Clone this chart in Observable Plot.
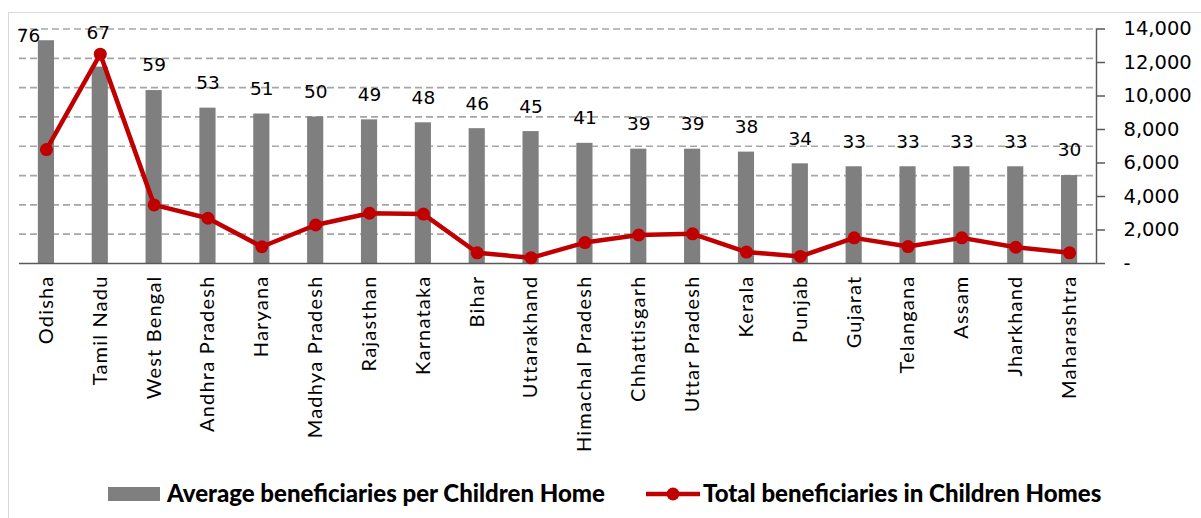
<!DOCTYPE html>
<html><head><meta charset="utf-8">
<script src="https://cdn.jsdelivr.net/npm/d3@7"></script>
<script src="https://cdn.jsdelivr.net/npm/@observablehq/plot@0.6"></script>
<style>
html,body{margin:0;padding:0;background:#fff;width:1201px;height:518px;overflow:hidden;position:relative;}
#frame{position:absolute;left:8px;top:12px;width:1300px;height:700px;border:1px solid #d9d9d9;box-sizing:border-box;}
#chart{position:absolute;left:0;top:0;}
.leg{position:absolute;font-family:Lato,sans-serif;font-weight:900;font-size:24px;color:#000;line-height:28px;white-space:nowrap;}
</style>
</head><body>
<div id="frame"></div>
<div id="chart"></div>
<div class="leg" id="leg1" style="left:108px;top:479px;">
  <span style="display:inline-block;width:52px;height:14px;background:#7f7f7f;vertical-align:1px;margin-right:7px;"></span><span id="leg1t"></span>
</div>
<div class="leg" id="leg2" style="left:646px;top:479px;">
  <svg width="54" height="16" style="vertical-align:0px;margin-right:3px;"><line x1="0" x2="54" y1="8" y2="8" stroke="#c00000" stroke-width="4.5"/><circle cx="27" cy="8" r="6.5" fill="#c00000"/></svg><span id="leg2t"></span>
</div>
<script>
const states = ["Odisha","Tamil Nadu","West Bengal","Andhra Pradesh","Haryana","Madhya Pradesh","Rajasthan","Karnataka","Bihar","Uttarakhand","Himachal Pradesh","Chhattisgarh","Uttar Pradesh","Kerala","Punjab","Gujarat","Telangana","Assam","Jharkhand","Maharashtra"];
const avgPerHome = [76,67,59,53,51,50,49,48,46,45,41,39,39,38,34,33,33,33,33,30];
const totalBeneficiaries = [6800,12500,3500,2700,1000,2300,3000,2950,640,340,1250,1700,1770,680,420,1530,1010,1530,970,640];
const rightTicks = [0,2000,4000,6000,8000,10000,12000,14000];
const leftGrid = [10,20,30,40,50,60,70,80];
const seriesNames = ["Average beneficiaries per Children Home","Total beneficiaries in Children Homes"];

document.getElementById("leg1t").textContent = seriesNames[0];
document.getElementById("leg2t").textContent = seriesNames[1];

const leftMax = 80, rightMax = 14000;
const toLeft = v => v * leftMax / rightMax;
const data = states.map((s,i)=>({state:s, avg:avgPerHome[i], total:totalBeneficiaries[i], tl: toLeft(totalBeneficiaries[i])}));
const fmt = d3.format(",");

const chart = Plot.plot({
  width: 1201, height: 470,
  marginLeft: 19, marginRight: 105, marginTop: 28.5, marginBottom: 207,
  x: {domain: states, paddingInner: 0.7, paddingOuter: 0.35, round: false},
  y: {domain: [0, leftMax]},
  style: {background: "transparent", color: "#000", overflow: "visible"},
  marks: [
    Plot.ruleY(leftGrid, {stroke: "#a6a6a6", strokeWidth: 1.7, strokeDasharray: "7,4"}),
    Plot.barY(data, {x: "state", y: "avg", fill: "#7f7f7f"}),
    Plot.ruleY([0], {stroke: "#595959", strokeWidth: 1.5}),
    Plot.frame({anchor: "right", stroke: "#595959", strokeWidth: 1.5}),
    Plot.axisX({tickSize: 0, tickRotate: -90, tickPadding: 12, fontSize: 20, fontFamily: "Lato", label: null, className: "catax"}),
    Plot.axisY({anchor: "right", ticks: rightTicks.map(toLeft), tickSize: 8, tickPadding: 19, textAnchor: "start",
      stroke: "#595959", strokeWidth: 1.5, fontSize: 19.5, fontFamily: "DejaVu Sans", label: null,
      tickFormat: v => { const r = Math.round(v * rightMax / leftMax); return r === 0 ? "-" : fmt(r); }}),
    Plot.line(data, {x: "state", y: "tl", stroke: "#c00000", strokeWidth: 4.5, strokeLinejoin: "round"}),
    Plot.dot(data, {x: "state", y: "tl", r: 6.5, fill: "#c00000"}),
    Plot.text(data.slice(2), {x: "state", y: "avg", text: d => String(d.avg), dy: -25, fontSize: 18.5, fontFamily: "DejaVu Sans", fill: "#000"}),
    Plot.text(data.slice(0,1), {x: "state", y: "avg", text: d => String(d.avg), dy: -5, dx: -18, fontSize: 18.5, fontFamily: "DejaVu Sans", fill: "#000"}),
    Plot.text(data.slice(1,2), {x: "state", y: "avg", text: d => String(d.avg), dy: -34, dx: -2, fontSize: 18.5, fontFamily: "DejaVu Sans", fill: "#000"})
  ]
});
d3.select(chart).selectAll("g.catax text").style("letter-spacing", "1.2px");
document.getElementById("chart").appendChild(chart);
</script>
</body></html>
